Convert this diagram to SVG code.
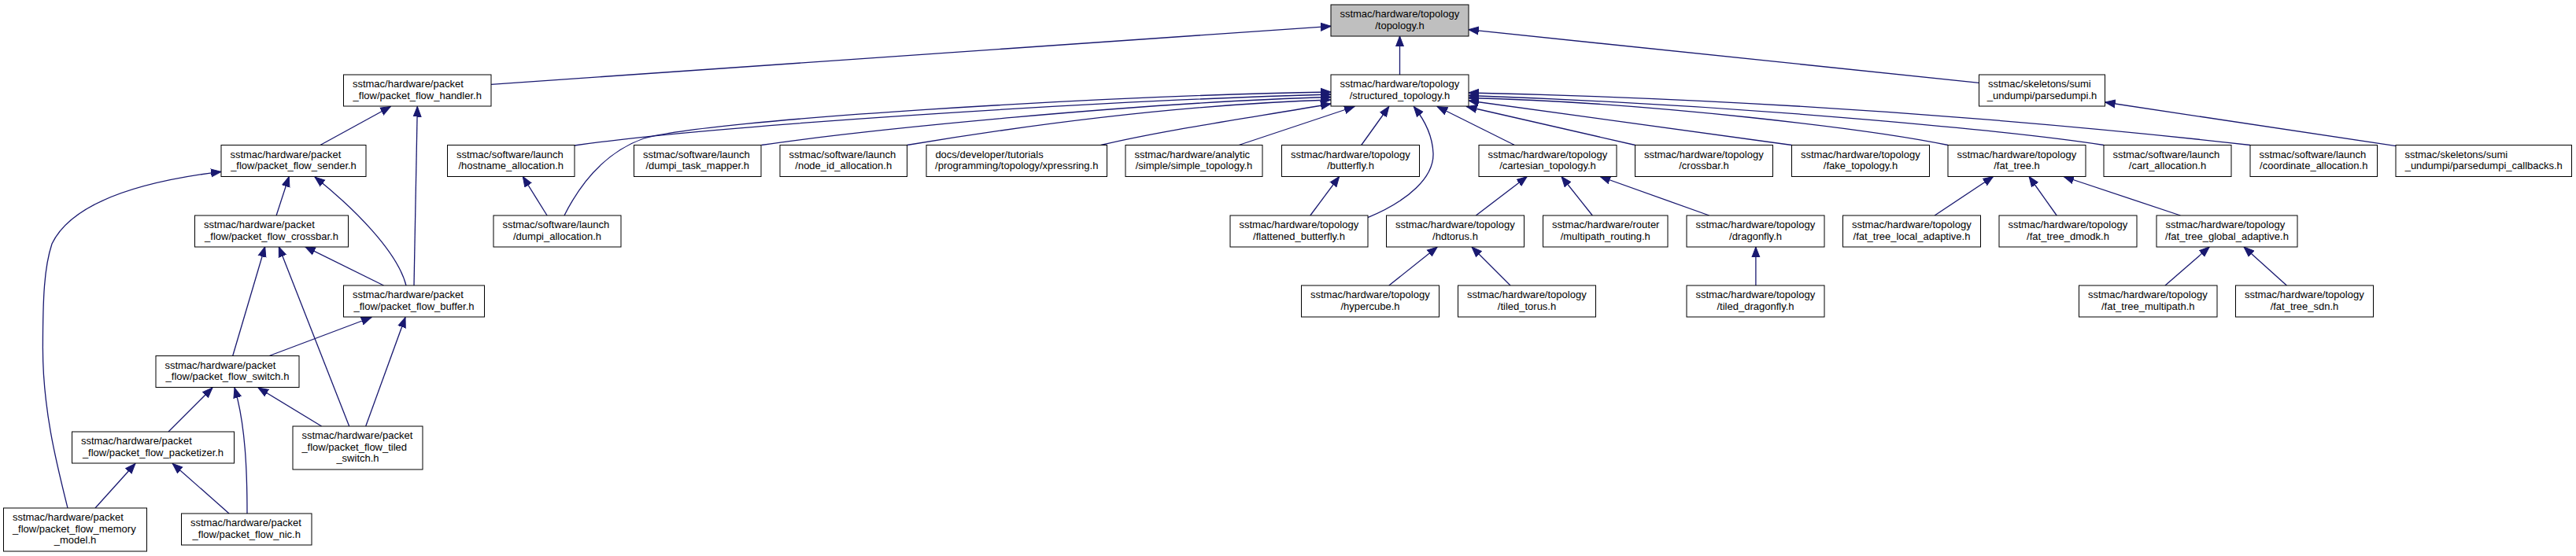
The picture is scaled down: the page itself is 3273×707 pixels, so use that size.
<svg xmlns="http://www.w3.org/2000/svg" width="3273" height="707" viewBox="0 0 3273 707">
<style>
.node rect{fill:#ffffff;stroke:#000000;stroke-width:1}
.main rect{fill:#bfbfbf}
text{font-family:"Liberation Sans",Arial,Helvetica,sans-serif;font-size:13px;fill:#000000}
.c{text-anchor:middle}
.edges path{fill:none;stroke:#191970;stroke-width:1.3;marker-end:url(#arr)}
</style>
<defs>
<marker id="arr" markerUnits="userSpaceOnUse" viewBox="0 -6 14 12" refX="13" refY="0" markerWidth="14" markerHeight="12" orient="auto">
<path d="M0,-5 L13,0 L0,5 z" fill="#191970" stroke="#191970" stroke-width="1"/>
</marker>
</defs>
<rect x="0" y="0" width="3273" height="707" fill="#ffffff"/>
<g id="edges" class="edges">
<path d="M624,107.3 L1691,33.3"/>
<path d="M1778.5,95 L1778.5,46"/>
<path d="M2514.6,105.3 L1865.8,37.7"/>
<path d="M3044.3,185.7 L2674.6,130"/>
<path d="M406.9,184.5 L496.3,135.5"/>
<path d="M526,363 L530.3,135.5"/>
<path d="M351.1,274 L367.2,224.5"/>
<path d="M516,363 C505,320 450,265 400,225"/>
<path d="M86,646 C72,590 54,520 54.4,440 C54.5,380 56,340 66,310 C90,260 170,232 281,218.3"/>
<path d="M295.7,452.5 L336.7,313.7"/>
<path d="M443.7,542 L354.3,313.7"/>
<path d="M487.5,363 L387.6,313.7"/>
<path d="M342,452.5 L472,403.5"/>
<path d="M464.7,542 L515,403.5"/>
<path d="M214,549 L270,493"/>
<path d="M314,653 C314,600 312,540 298,493"/>
<path d="M408.6,542 L328,493"/>
<path d="M121,646 L171.9,589.5"/>
<path d="M291.1,653 L219.2,589.5"/>
<path d="M695.1,274 L664.3,224.5"/>
<path d="M729.8,185 C900,160 1400,128 1691,120"/>
<path d="M717,274 C735,238 765,195 818,176 C900,152 1400,122 1691,117"/>
<path d="M967.3,184.5 C1100,165 1450,130 1691,123.5"/>
<path d="M1152.4,184.5 C1300,160 1500,133 1691,127"/>
<path d="M1398.7,184.5 C1480,165 1600,148 1691,132"/>
<path d="M1574,184.5 L1721,135.5"/>
<path d="M1729.7,184.5 L1764.8,135.5"/>
<path d="M1737.8,276.7 C1790,255 1822,225 1821,195 C1820,170 1808,150 1796.3,135.5"/>
<path d="M1664.8,274 L1701.6,224.5"/>
<path d="M1924.4,184.5 L1826.2,135.5"/>
<path d="M2077.6,184.5 L1863.5,135.5"/>
<path d="M2276.5,184.5 L1866,128"/>
<path d="M2475,184.5 C2380,165 2100,130 1866,124.5"/>
<path d="M2673,184.5 C2580,170 2250,135 1866,121.5"/>
<path d="M2859,184.5 C2750,172 2350,128 1866,118"/>
<path d="M1875.3,274 L1940.2,224.5"/>
<path d="M2023.3,274 L1984,224.5"/>
<path d="M2171.7,274 L2033.1,224.5"/>
<path d="M1764.8,363 L1826.2,314"/>
<path d="M1919,363 L1870,314"/>
<path d="M2230.9,363 L2230.9,314"/>
<path d="M2458.1,274 L2532.5,224.5"/>
<path d="M2613.2,274 L2578.1,224.5"/>
<path d="M2770.4,274 L2622,224.5"/>
<path d="M2751,363 L2807.2,314"/>
<path d="M2905.4,363 L2851,314"/>
</g>
<g id="n_topology" class="node main"><rect x="1691" y="6" width="175" height="40"/><text x="1702.4" y="22">sstmac/hardware/topology</text><text class="c" x="1778.5" y="36.7">/topology.h</text></g>
<g id="n_structured" class="node"><rect x="1691" y="95" width="175" height="40"/><text x="1702.4" y="111">sstmac/hardware/topology</text><text class="c" x="1778.5" y="125.7">/structured_topology.h</text></g>
<g id="n_handler" class="node"><rect x="436.5" y="95" width="187.5" height="40"/><text x="447.9" y="111">sstmac/hardware/packet</text><text class="c" x="530.25" y="125.7">_flow/packet_flow_handler.h</text></g>
<g id="n_parsedumpi" class="node"><rect x="2514.5" y="95" width="160" height="40"/><text x="2525.9" y="111">sstmac/skeletons/sumi</text><text class="c" x="2594.5" y="125.7">_undumpi/parsedumpi.h</text></g>
<g id="n_sender" class="node"><rect x="281" y="184.5" width="184" height="40"/><text x="292.4" y="200.5">sstmac/hardware/packet</text><text class="c" x="373" y="215.2">_flow/packet_flow_sender.h</text></g>
<g id="n_hostname" class="node"><rect x="568.5" y="184.5" width="161.5" height="40"/><text x="579.9" y="200.5">sstmac/software/launch</text><text class="c" x="649.25" y="215.2">/hostname_allocation.h</text></g>
<g id="n_taskmapper" class="node"><rect x="805.5" y="184.5" width="161.5" height="40"/><text x="816.9" y="200.5">sstmac/software/launch</text><text class="c" x="886.25" y="215.2">/dumpi_task_mapper.h</text></g>
<g id="n_nodeid" class="node"><rect x="991" y="184.5" width="161.5" height="40"/><text x="1002.4" y="200.5">sstmac/software/launch</text><text class="c" x="1071.75" y="215.2">/node_id_allocation.h</text></g>
<g id="n_xpressring" class="node"><rect x="1177" y="184.5" width="229.5" height="40"/><text x="1188.4" y="200.5">docs/developer/tutorials</text><text class="c" x="1291.75" y="215.2">/programming/topology/xpressring.h</text></g>
<g id="n_simple" class="node"><rect x="1430" y="184.5" width="174" height="40"/><text x="1441.4" y="200.5">sstmac/hardware/analytic</text><text class="c" x="1517" y="215.2">/simple/simple_topology.h</text></g>
<g id="n_butterfly" class="node"><rect x="1628.5" y="184.5" width="175" height="40"/><text x="1639.9" y="200.5">sstmac/hardware/topology</text><text class="c" x="1716" y="215.2">/butterfly.h</text></g>
<g id="n_cartesian" class="node"><rect x="1879" y="184.5" width="175" height="40"/><text x="1890.4" y="200.5">sstmac/hardware/topology</text><text class="c" x="1966.5" y="215.2">/cartesian_topology.h</text></g>
<g id="n_crossbar" class="node"><rect x="2077.5" y="184.5" width="175" height="40"/><text x="2088.9" y="200.5">sstmac/hardware/topology</text><text class="c" x="2165" y="215.2">/crossbar.h</text></g>
<g id="n_fake" class="node"><rect x="2276.5" y="184.5" width="175" height="40"/><text x="2287.9" y="200.5">sstmac/hardware/topology</text><text class="c" x="2364" y="215.2">/fake_topology.h</text></g>
<g id="n_fattree" class="node"><rect x="2475" y="184.5" width="175" height="40"/><text x="2486.4" y="200.5">sstmac/hardware/topology</text><text class="c" x="2562.5" y="215.2">/fat_tree.h</text></g>
<g id="n_cartalloc" class="node"><rect x="2673" y="184.5" width="162" height="40"/><text x="2684.4" y="200.5">sstmac/software/launch</text><text class="c" x="2754" y="215.2">/cart_allocation.h</text></g>
<g id="n_coordinate" class="node"><rect x="2859" y="184.5" width="161.5" height="40"/><text x="2870.4" y="200.5">sstmac/software/launch</text><text class="c" x="2939.75" y="215.2">/coordinate_allocation.h</text></g>
<g id="n_callbacks" class="node"><rect x="3044" y="184.5" width="223.5" height="40"/><text x="3055.4" y="200.5">sstmac/skeletons/sumi</text><text class="c" x="3155.75" y="215.2">_undumpi/parsedumpi_callbacks.h</text></g>
<g id="n_pfcrossbar" class="node"><rect x="247.5" y="274" width="195" height="40"/><text x="258.9" y="290">sstmac/hardware/packet</text><text class="c" x="345" y="304.7">_flow/packet_flow_crossbar.h</text></g>
<g id="n_dumpialloc" class="node"><rect x="627" y="274" width="162" height="40"/><text x="638.4" y="290">sstmac/software/launch</text><text class="c" x="708" y="304.7">/dumpi_allocation.h</text></g>
<g id="n_flattened" class="node"><rect x="1563" y="274" width="175" height="40"/><text x="1574.4" y="290">sstmac/hardware/topology</text><text class="c" x="1650.5" y="304.7">/flattened_butterfly.h</text></g>
<g id="n_hdtorus" class="node"><rect x="1761.5" y="274" width="175" height="40"/><text x="1772.9" y="290">sstmac/hardware/topology</text><text class="c" x="1849" y="304.7">/hdtorus.h</text></g>
<g id="n_multipathrouting" class="node"><rect x="1960.5" y="274" width="158.5" height="40"/><text x="1971.9" y="290">sstmac/hardware/router</text><text class="c" x="2039.75" y="304.7">/multipath_routing.h</text></g>
<g id="n_dragonfly" class="node"><rect x="2143" y="274" width="175" height="40"/><text x="2154.4" y="290">sstmac/hardware/topology</text><text class="c" x="2230.5" y="304.7">/dragonfly.h</text></g>
<g id="n_ftlocal" class="node"><rect x="2341.5" y="274" width="175" height="40"/><text x="2352.9" y="290">sstmac/hardware/topology</text><text class="c" x="2429" y="304.7">/fat_tree_local_adaptive.h</text></g>
<g id="n_ftdmodk" class="node"><rect x="2540" y="274" width="175" height="40"/><text x="2551.4" y="290">sstmac/hardware/topology</text><text class="c" x="2627.5" y="304.7">/fat_tree_dmodk.h</text></g>
<g id="n_ftglobal" class="node"><rect x="2740" y="274" width="179" height="40"/><text x="2751.4" y="290">sstmac/hardware/topology</text><text class="c" x="2829.5" y="304.7">/fat_tree_global_adaptive.h</text></g>
<g id="n_buffer" class="node"><rect x="436.5" y="363" width="179" height="40"/><text x="447.9" y="379">sstmac/hardware/packet</text><text class="c" x="526" y="393.7">_flow/packet_flow_buffer.h</text></g>
<g id="n_hypercube" class="node"><rect x="1653.5" y="363" width="175" height="40"/><text x="1664.9" y="379">sstmac/hardware/topology</text><text class="c" x="1741" y="393.7">/hypercube.h</text></g>
<g id="n_tiledtorus" class="node"><rect x="1852.5" y="363" width="175" height="40"/><text x="1863.9" y="379">sstmac/hardware/topology</text><text class="c" x="1940" y="393.7">/tiled_torus.h</text></g>
<g id="n_tileddragonfly" class="node"><rect x="2143" y="363" width="175" height="40"/><text x="2154.4" y="379">sstmac/hardware/topology</text><text class="c" x="2230.5" y="393.7">/tiled_dragonfly.h</text></g>
<g id="n_ftmultipath" class="node"><rect x="2641.5" y="363" width="175.5" height="40"/><text x="2652.9" y="379">sstmac/hardware/topology</text><text class="c" x="2729.25" y="393.7">/fat_tree_multipath.h</text></g>
<g id="n_ftsdn" class="node"><rect x="2840.5" y="363" width="175" height="40"/><text x="2851.9" y="379">sstmac/hardware/topology</text><text class="c" x="2928" y="393.7">/fat_tree_sdn.h</text></g>
<g id="n_switch" class="node"><rect x="198" y="452.5" width="182" height="40"/><text x="209.4" y="468.5">sstmac/hardware/packet</text><text class="c" x="289" y="483.2">_flow/packet_flow_switch.h</text></g>
<g id="n_packetizer" class="node"><rect x="91.5" y="549" width="206" height="40"/><text x="102.9" y="565">sstmac/hardware/packet</text><text class="c" x="194.5" y="579.7">_flow/packet_flow_packetizer.h</text></g>
<g id="n_tiledswitch" class="node"><rect x="372" y="542" width="165" height="55"/><text x="383.4" y="558">sstmac/hardware/packet</text><text x="383.4" y="572.7">_flow/packet_flow_tiled</text><text class="c" x="454.5" y="587.4">_switch.h</text></g>
<g id="n_memorymodel" class="node"><rect x="4.5" y="646" width="182" height="55"/><text x="15.9" y="662">sstmac/hardware/packet</text><text x="15.9" y="676.7">_flow/packet_flow_memory</text><text class="c" x="95.5" y="691.4">_model.h</text></g>
<g id="n_nic" class="node"><rect x="230.5" y="653" width="165.5" height="40"/><text x="241.9" y="669">sstmac/hardware/packet</text><text class="c" x="313.25" y="683.7">_flow/packet_flow_nic.h</text></g>
</svg>
